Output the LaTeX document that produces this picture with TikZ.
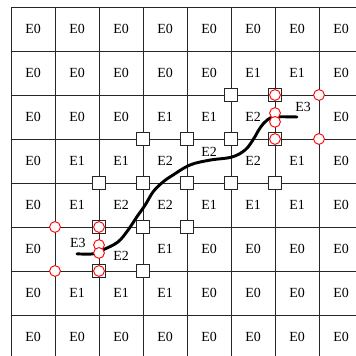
\documentclass[tikz,border=0pt]{standalone}
\usepackage{fontspec}
\setmainfont{Liberation Serif}
\begin{document}
\begin{tikzpicture}[x=1cm,y=1cm,
  gridline/.style={draw=black!85, line width=0.6pt},
  cellnum/.style={font=\fontsize{9}{10}\selectfont, inner sep=0pt},
  sqmark/.style={draw=black!85, fill=white, line width=0.6pt, minimum size=0.28cm, inner sep=0pt, rectangle},
  redmark/.style={draw=red, fill=white, line width=0.6pt, circle, minimum size=0.245cm, inner sep=0pt},
  front/.style={line width=1.9pt, line cap=round}]
\useasboundingbox (-0.25,0.159) rectangle (7.841,-7.932);
\begin{scope}
\clip (-0.25,0.159) rectangle (7.841,-7.932);
\foreach \i in {0,...,8} {
  \draw[gridline] (\i,0) -- (\i,-8);
  \draw[gridline] (0,-\i) -- (8,-\i);
}
% cell labels
\foreach \r/\row in {0/{E0,E0,E0,E0,E0,E0,E0,E0},
                     1/{E0,E0,E0,E0,E0,E1,E1,E0},
                     2/{E0,E0,E0,E1,E1,E2,,E0},
                     3/{E0,E1,E1,E2,,E2,E1,E0},
                     4/{E0,E1,E2,E2,E1,E1,E1,E0},
                     5/{E0,,,E1,E0,E0,E0,E0},
                     6/{E0,E1,E1,E1,E0,E0,E0,E0},
                     7/{E0,E0,E0,E0,E0,E0,E0,E0}} {
  \foreach \t [count=\c from 0] in \row {
    \node[cellnum] (l\r-\c) at (\c+0.5,-\r-0.5) {\t};
  }
}
\node[cellnum] (l2-6) at (6.64,-2.27) {E3};
\node[cellnum] (l3-4) at (4.5,-3.30) {E2};
\node[cellnum] (l5-1) at (1.52,-5.36) {E3};
\node[cellnum] (l5-2) at (2.5,-5.66) {E2};
% square markers
\foreach \i/\j in {5/2,6/2,3/3,4/3,5/3,6/3,2/4,3/4,4/4,5/4,6/4,2/5,3/5,4/5,2/6,3/6} {
  \node[sqmark] (s\i-\j) at (\i,-\j) {};
}
% curve
\draw[front] plot[smooth, tension=0.6] coordinates {
  (1.50,-5.61) (1.86,-5.61) (2.09,-5.52) (2.43,-5.34) (2.66,-5.07)
  (2.86,-4.77) (3.05,-4.50) (3.23,-4.20) (3.45,-3.98) (3.68,-3.82)
  (4.07,-3.59) (4.52,-3.48) (5.02,-3.41) (5.32,-3.25) (5.50,-3.02)
  (5.66,-2.75) (5.82,-2.57) (6.00,-2.50) (6.50,-2.50)};
% red circles
\foreach \i/\j [count=\k] in {7/2,7/3,6/2,6/3,1/5,1/6,2/5,2/6} {
  \node[redmark] (c\k) at (\i,-\j) {};
}
\node[redmark] (c9) at (6,-2.41) {};
\node[redmark] (c10) at (6,-2.61) {};
\node[redmark] (c11) at (2,-5.41) {};
\node[redmark] (c12) at (2,-5.59) {};
\end{scope}
\end{tikzpicture}
\end{document}
